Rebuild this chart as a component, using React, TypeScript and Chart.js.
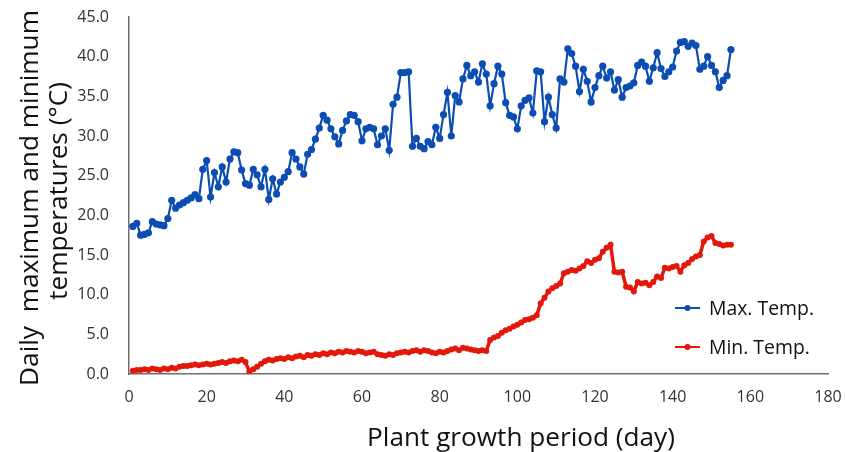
import React, { useEffect, useRef } from "react";
import { Chart, registerables } from "chart.js";

Chart.register(...registerables);

// Daily maximum temperature (°C), day 1 .. 155
const maxTemp = [
  18.6, 19.0, 17.5, 17.6, 17.8, 19.2, 18.9, 18.8, 18.7, 19.6,
  21.9, 20.9, 21.3, 21.6, 21.9, 22.2, 22.6, 22.1, 25.8, 26.9,
  22.3, 25.4, 23.6, 26.1, 24.2, 27.1, 28.0, 27.9, 25.7, 24.0,
  23.8, 25.8, 25.1, 23.6, 25.8, 22.0, 24.6, 22.7, 24.2, 24.8,
  25.5, 27.9, 27.1, 26.1, 25.2, 27.7, 28.3, 29.6, 31.0, 32.6,
  32.0, 30.9, 29.9, 29.0, 30.7, 31.9, 32.7, 32.6, 31.8, 29.4,
  30.9, 31.1, 30.9, 28.9, 30.0, 30.9, 28.2, 34.0, 34.9, 38.0,
  38.0, 38.1, 28.7, 29.7, 28.7, 28.4, 29.3, 28.9, 31.1, 29.7,
  32.7, 35.5, 30.0, 35.1, 34.3, 37.2, 38.9, 37.6, 38.1, 36.8,
  39.1, 37.8, 33.8, 36.6, 38.8, 37.8, 34.2, 32.6, 32.4, 30.9,
  33.8, 34.5, 34.8, 32.9, 38.2, 38.1, 31.8, 34.9, 32.7, 31.0,
  37.2, 36.8, 41.0, 40.4, 38.8, 35.6, 38.4, 36.9, 34.3, 36.1,
  37.6, 38.8, 37.3, 38.1, 35.8, 37.1, 34.9, 36.1, 36.3, 36.7,
  38.9, 39.3, 38.8, 36.9, 38.6, 40.5, 38.5, 37.5, 38.1, 38.7,
  40.7, 41.8, 41.9, 41.3, 41.7, 41.4, 38.4, 38.8, 40.0, 38.9,
  38.1, 36.1, 37.0, 37.6, 40.9,
];

// Daily minimum temperature (°C), day 1 .. 155
const minTemp = [
  0.4, 0.5, 0.5, 0.6, 0.5, 0.7, 0.6, 0.5, 0.7, 0.6,
  0.8, 0.7, 0.9, 1.0, 1.0, 1.1, 1.2, 1.1, 1.2, 1.3,
  1.2, 1.3, 1.4, 1.5, 1.4, 1.6, 1.7, 1.6, 1.8, 1.5,
  0.3, 0.6, 0.9, 1.3, 1.6, 1.8, 1.7, 1.9, 2.0, 1.9,
  2.1, 2.0, 2.2, 2.3, 2.1, 2.4, 2.3, 2.5, 2.4, 2.6,
  2.5, 2.7, 2.6, 2.8, 2.7, 2.9, 2.8, 2.7, 2.9, 2.8,
  2.6, 2.7, 2.8, 2.5, 2.4, 2.3, 2.5, 2.4, 2.6, 2.7,
  2.8, 2.7, 2.9, 3.0, 2.8, 3.0, 2.9, 2.7, 2.6, 2.8,
  2.7, 2.9, 3.1, 3.2, 3.0, 3.3, 3.2, 3.1, 3.0, 2.9,
  3.0, 2.9, 4.3, 4.6, 4.8, 5.2, 5.5, 5.7, 6.0, 6.2,
  6.5, 6.8, 6.9, 7.1, 7.4, 8.9, 9.6, 10.4, 10.8, 11.1,
  11.4, 12.7, 12.9, 13.1, 13.0, 13.3, 13.6, 14.2, 14.0, 14.4,
  14.6, 15.4, 15.9, 16.3, 12.9, 12.8, 12.9, 11.0, 10.9, 10.4,
  11.6, 11.4, 11.5, 11.2, 11.6, 12.3, 12.1, 13.4, 13.3, 13.5,
  13.6, 12.9, 13.7, 14.0, 14.5, 14.8, 15.0, 16.7, 17.2, 17.4,
  16.5, 16.4, 16.2, 16.3, 16.3,
];

const seriesNames = ["Max. Temp.", "Min. Temp."];
const xTitle = "Plant growth period (day)";
const yTitleLines = ["Daily  maximum and minimum", "temperatures (°C)"];
const xMin = 0, xMax = 180, xStep = 20;
const yMin = 0, yMax = 45, yStep = 5;

const BLUE = "#0C4DB4";
const RED = "#E3170A";
const FONT = "'Open Sans', 'Noto Sans', sans-serif";

function fitFont(ctx: CanvasRenderingContext2D, text: string, width: number): string {
  ctx.font = `100px ${FONT}`;
  const w = ctx.measureText(text).width;
  const size = (100 * width) / w;
  return `${size.toFixed(2)}px ${FONT}`;
}

const decorPlugin = {
  id: "decor",
  afterDraw(chart: any) {
    const ctx: CanvasRenderingContext2D = chart.ctx;
    ctx.save();
    ctx.fillStyle = "#111";
    // x title
    ctx.font = fitFont(ctx, xTitle, 308);
    ctx.textAlign = "center";
    ctx.textBaseline = "alphabetic";
    ctx.fillText(xTitle, 521, 446);
    // y title (two rotated lines)
    const yCfg = [
      { text: yTitleLines[0], cx: 31, cy: 198 },
      { text: yTitleLines[1], cx: 60, cy: 191 },
    ];
    const yFont = fitFont(ctx, yTitleLines[0], 376);
    for (const c of yCfg) {
      ctx.save();
      ctx.translate(c.cx, c.cy);
      ctx.rotate(-Math.PI / 2);
      ctx.font = yFont;
      ctx.textAlign = "center";
      ctx.textBaseline = "middle";
      ctx.fillText(c.text, 0, 0);
      ctx.restore();
    }
    // legend
    const legendFont = fitFont(ctx, seriesNames[0], 105);
    const items = [
      { name: seriesNames[0], color: BLUE, y: 308 },
      { name: seriesNames[1], color: RED, y: 347 },
    ];
    for (const it of items) {
      ctx.strokeStyle = it.color;
      ctx.lineWidth = 2;
      ctx.beginPath();
      ctx.moveTo(675, it.y);
      ctx.lineTo(700, it.y);
      ctx.stroke();
      ctx.fillStyle = it.color;
      ctx.beginPath();
      ctx.arc(687.5, it.y, 3, 0, Math.PI * 2);
      ctx.fill();
      ctx.fillStyle = "#111";
      ctx.font = legendFont;
      ctx.textAlign = "left";
      ctx.textBaseline = "middle";
      ctx.fillText(it.name, 709, it.y + 1);
    }
    ctx.restore();
  },
};

export default function App() {
  const ref = useRef<HTMLCanvasElement | null>(null);

  useEffect(() => {
    if (!ref.current) return;
    const toPoints = (arr: number[]) => arr.map((v, i) => ({ x: i + 1, y: v }));
    const chart = new Chart(ref.current, {
      type: "line",
      data: {
        datasets: [
          {
            label: seriesNames[0],
            data: toPoints(maxTemp),
            borderColor: BLUE,
            backgroundColor: BLUE,
            borderWidth: 2.2,
            pointRadius: 3.6,
            pointBorderWidth: 0,
            pointBackgroundColor: BLUE,
            tension: 0,
          },
          {
            label: seriesNames[1],
            data: toPoints(minTemp),
            borderColor: RED,
            backgroundColor: RED,
            borderWidth: 3.5,
            pointRadius: 3,
            pointBorderWidth: 0,
            pointBackgroundColor: RED,
            tension: 0,
          },
        ],
      },
      options: {
        animation: false,
        responsive: false,
        maintainAspectRatio: false,
        layout: { autoPadding: false, padding: { top: 17, right: 17, left: 0, bottom: 0 } },
        plugins: {
          legend: { display: false },
          tooltip: { enabled: false },
        },
        scales: {
          x: {
            type: "linear",
            min: xMin,
            max: xMax,
            grid: { display: false, drawTicks: false },
            border: { display: true, color: "#6e6e6e", width: 1.5 },
            ticks: {
              stepSize: xStep,
              color: "#333",
              padding: 14,
              font: { family: FONT, size: 16 },
              maxRotation: 0,
            },
            afterFit: (s: any) => {
              s.height = 78;
              s.paddingLeft = 0;
              s.paddingRight = 0;
            },
          },
          y: {
            min: yMin,
            max: yMax,
            grid: { display: false, drawTicks: false },
            border: { display: true, color: "#6e6e6e", width: 1.5 },
            ticks: {
              stepSize: yStep,
              color: "#333",
              padding: 20,
              font: { family: FONT, size: 16 },
              callback: (v: any) => Number(v).toFixed(1),
            },
            afterFit: (s: any) => {
              s.width = 129;
              s.paddingTop = 0;
              s.paddingBottom = 0;
            },
          },
        },
      },
      plugins: [decorPlugin],
    });
    return () => chart.destroy();
  }, []);

  return (
    <div style={{ position: "fixed", left: 0, top: 0, width: 845, height: 452, background: "#fff" }}>
      <canvas ref={ref} width={845} height={452} style={{ width: 845, height: 452 }} />
    </div>
  );
}
